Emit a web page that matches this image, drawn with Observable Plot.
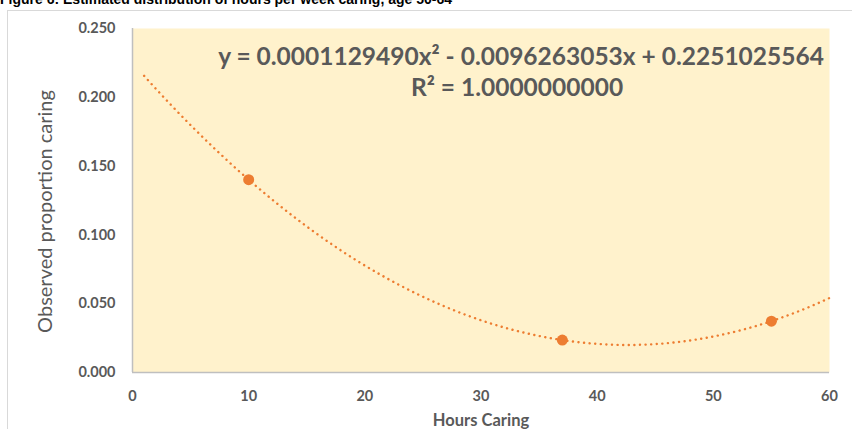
<!DOCTYPE html>
<html>
<head>
<meta charset="utf-8">
<script src="https://cdn.jsdelivr.net/npm/d3@7"></script>
<script src="https://cdn.jsdelivr.net/npm/@observablehq/plot@0.6"></script>
<style>
  html, body { margin: 0; padding: 0; background: #fff; overflow: hidden; }
  #wrap { position: relative; width: 852px; height: 429px; overflow: hidden; }
  #title { position: absolute; left: 0; top: -9px; font: bold 14px "Liberation Sans", Arial, sans-serif; color: #000; white-space: nowrap; }
  #border { position: absolute; left: 7px; top: 10px; width: 900px; height: 500px; border: 1px solid #D9D9D9; }
  #chart { position: absolute; left: 0; top: 0; }
</style>
</head>
<body>
<div id="wrap">
  <div id="border"></div>
  <div id="title">Figure 6: Estimated distribution of hours per week caring, age 50-64</div>
  <div id="chart"></div>
</div>
<script>
const hours = [10, 37, 55];
const proportion = [0.1401, 0.0236, 0.0373];
const trendCoef = [0.0001129490, -0.0096263053, 0.2251025564]; // a, b, c of displayed trendline
const trendRange = [1, 60];
const xTicks = [0, 10, 20, 30, 40, 50, 60];
const yTicks = [0, 0.05, 0.1, 0.15, 0.2, 0.25];
const equationText = "y = 0.0001129490x² - 0.0096263053x + 0.2251025564";
const r2Text = "R² = 1.0000000000";
const xLabel = "Hours Caring";
const yLabel = "Observed proportion caring";

const points = hours.map((h, i) => ({x: h, y: proportion[i]}));
const trend = d3.range(trendRange[0], trendRange[1] + 0.001, 0.25)
  .map(x => ({x, y: trendCoef[0] * x * x + trendCoef[1] * x + trendCoef[2]}));

const grey = "#595959";
const font = "Lato, 'Open Sans', sans-serif";

const chart = Plot.plot({
  width: 852,
  height: 429,
  marginLeft: 132,
  marginRight: 23,
  marginTop: 28,
  marginBottom: 57,
  style: {fontFamily: font, background: "transparent", overflow: "visible"},
  x: {domain: [0, 60]},
  y: {domain: [0, 0.25]},
  marks: [
    Plot.frame({fill: "#FFF2CC", stroke: null}),
    Plot.ruleX([0], {stroke: "#BFBFBF", strokeWidth: 1.5}),
    Plot.ruleY([0], {stroke: "#BFBFBF", strokeWidth: 1.5}),
    Plot.axisX({ticks: xTicks, tickSize: 0, tickPadding: 18, tickFormat: d => d, fontSize: 14.5, fontWeight: "bold", fill: grey, label: null}),
    Plot.axisY({ticks: yTicks, tickSize: 0, tickPadding: 17, tickFormat: d3.format(".3f"), fontSize: 14.5, fontWeight: "bold", fill: grey, label: null}),
    Plot.line(trend, {x: "x", y: "y", stroke: "#ED7D31", strokeWidth: 2.4, strokeDasharray: "0.1 5.5", strokeLinecap: "round", curve: "linear"}),
    Plot.dot(points, {x: "x", y: "y", r: 5.5, fill: "#ED7D31", stroke: null}),
    Plot.text([equationText], {frameAnchor: "top", dx: 40, dy: 29, lineAnchor: "middle", fontSize: 24.5, fontWeight: "bold", fill: grey}),
    Plot.text([r2Text], {frameAnchor: "top", dx: 36, dy: 60, lineAnchor: "middle", fontSize: 24.5, fontWeight: "bold", fill: grey}),
    Plot.text([xLabel], {frameAnchor: "bottom", dy: 48, lineAnchor: "middle", fontSize: 16.5, fontWeight: "bold", fill: grey}),
    Plot.text([yLabel], {frameAnchor: "left", textAnchor: "middle", dx: -87, dy: 11, rotate: -90, lineAnchor: "middle", fontSize: 20, fill: grey})
  ]
});
document.getElementById("chart").appendChild(chart);
</script>
</body>
</html>
